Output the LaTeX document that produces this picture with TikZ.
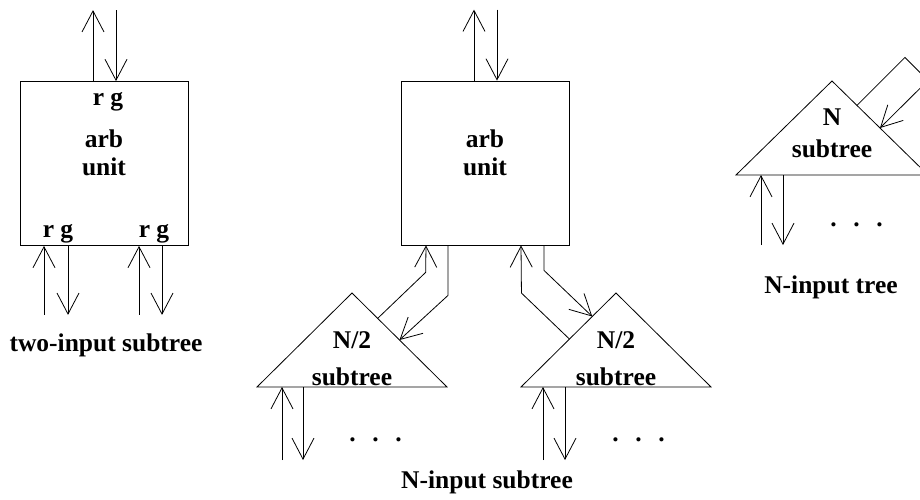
\documentclass[tikz,border=0pt]{standalone}
\usepackage{fontspec}
\setmainfont{Liberation Serif}
\usetikzlibrary{arrows.meta,calc,positioning}

\tikzset{
  sig/.style={-{Straight Barb[length=21pt,width=22pt]}},
  arbbox/.style={draw, minimum width=168pt, minimum height=164pt, inner sep=0pt},
  txt/.style={font=\bfseries\fontsize{25.5}{25}\selectfont, inner sep=0pt, anchor=base},
  dots/.style={txt, anchor=base west},
}

\begin{document}
\begin{tikzpicture}[x=1pt,y=-1pt,line width=0.8pt]
\useasboundingbox (0,0) rectangle (920,500);
\clip (0,0) rectangle (920,500);

% two-input subtree
\node[arbbox] (lbox) at (104,163.5) {};
\node[txt] (lrgtop) at (108,106) {r g};
\node[txt] (larb) at (104,147) {arb};
\node[txt] (lunit) at (104,175) {unit};
\node[txt] (lrgl) at (58,237) {r g};
\node[txt] (lrgr) at (154,237) {r g};
\draw[sig] ([xshift=-11pt]lbox.north) -- ++(0,-71);
\draw[sig] ([xshift=12pt]lbox.north) ++(0,-71) -- ([xshift=12pt]lbox.north);
\draw[sig] ([xshift=-60pt]lbox.south) ++(0,69) -- ([xshift=-60pt]lbox.south);
\draw[sig] ([xshift=-36pt]lbox.south) -- ++(0,69);
\draw[sig] ([xshift=35pt]lbox.south) ++(0,69) -- ([xshift=35pt]lbox.south);
\draw[sig] ([xshift=58pt]lbox.south) -- ++(0,69);
\node[txt] (lcap) at (106,351) {two-input subtree};

% N-input subtree
\node[arbbox] (mbox) at (485,163) {};
\node[txt] (marb) at (485,147) {arb};
\node[txt] (munit) at (485,175) {unit};
\draw[sig] ([xshift=-11pt]mbox.north) -- ++(0,-71);
\draw[sig] ([xshift=12pt]mbox.north) ++(0,-71) -- ([xshift=12pt]mbox.north);

\coordinate (lapex) at (352,293);
\coordinate (lleft) at (257,387);
\coordinate (lright) at (447,387);
\draw (lapex) -- (lright) -- (lleft) -- cycle;
\node[txt] (lhalf) at (352,348) {N/2};
\node[txt] (lsub) at (352,385) {subtree};

\coordinate (rapex) at (616,293);
\coordinate (rleft) at (521,387);
\coordinate (rright) at (711,387);
\draw (rapex) -- (rright) -- (rleft) -- cycle;
\node[txt] (rhalf) at (616,348) {N/2};
\node[txt] (rsub) at (616,385) {subtree};

\draw[sig] ($(lapex)!0.27!(lright)$) -- ++(48,-46) -- ([xshift=-59pt]mbox.south);
\draw[sig] ([xshift=-37pt]mbox.south) -- ++(0,50) -- ($(lapex)!0.5!(lright)$);
\draw[sig] ($(rapex)!0.49!(rleft)$) -- ++(-48,-46) -- ([xshift=36pt]mbox.south);
\draw[sig] ([xshift=59pt]mbox.south) -- ++(0,25) -- ($(rapex)!0.25!(rleft)$);

\draw[sig] ($(lleft)+(25,73)$) -- ($(lleft)+(25,0)$);
\draw[sig] ($(lleft)+(46,0)$) -- ++(0,73);
\node[dots] (ldots) at (349,441) {.\hspace{16.6pt}.\hspace{16.6pt}.};
\draw[sig] ($(rleft)+(22,73)$) -- ($(rleft)+(22,0)$);
\draw[sig] ($(rleft)+(44,0)$) -- ++(0,73);
\node[dots] (rdots) at (612,441) {.\hspace{16.6pt}.\hspace{16.6pt}.};
\node[txt] (mcap) at (487,488) {N-input subtree};

% N-input tree
\coordinate (tapex) at (832,81);
\coordinate (tleft) at (736,175);
\coordinate (tright) at (928,175);
\draw (tapex) -- (tright) -- (tleft) -- cycle;
\node[txt] (tn) at (832,125) {N};
\node[txt] (tsub) at (832,157) {subtree};
\draw[sig] ($(tapex)!0.26!(tright)$) -- ++(48,-48) -- ++(23,23) -- ($(tapex)!0.5!(tright)$);
\draw[sig] ($(tleft)+(25,70)$) -- ($(tleft)+(25,0)$);
\draw[sig] ($(tleft)+(47,0)$) -- ++(0,70);
\node[dots] (tdots) at (830,226) {.\hspace{16.6pt}.\hspace{16.6pt}.};
\node[txt] (tcap) at (831,293) {N-input tree};
\end{tikzpicture}
\end{document}
